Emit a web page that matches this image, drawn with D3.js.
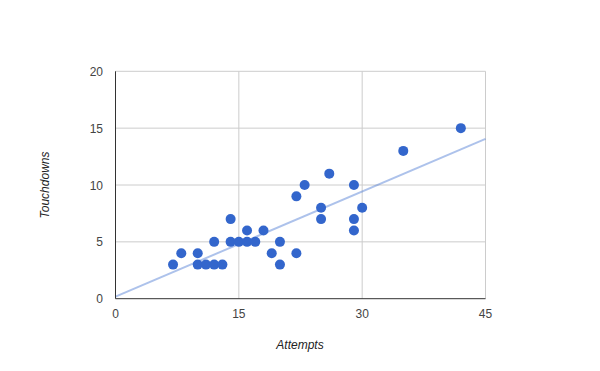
<!DOCTYPE html>
<html><head><meta charset="utf-8">
<script src="https://cdn.jsdelivr.net/npm/d3@7"></script>
<style>body{margin:0;background:#fff}svg{display:block;font-family:"Liberation Sans",Arial,sans-serif}</style>
</head><body><svg id="c" width="600" height="371"></svg>
<script>
const attempts   = [7,8,10,10,11,12,12,13,14,14,15,16,16,17,18,19,20,20,22,22,23,25,25,26,29,29,29,30,35,42];
const touchdowns = [3,4,4,3,3,3,5,3,7,5,5,5,6,5,6,4,5,3,9,4,10,8,7,11,10,7,6,8,13,15];
const xTicks = [0,15,30,45];
const yTicks = [0,5,10,15,20];
const xTitle = "Attempts", yTitle = "Touchdowns";

const svg = d3.select("#c");
const L=115.5,R=485.5,T=71.3,B=298.7;
const x = d3.scaleLinear().domain([0,45]).range([L,R]);
const y = d3.scaleLinear().domain([0,20]).range([B,T]);

// grid
svg.append("g").selectAll("line").data(xTicks.filter(d=>d>0)).join("line")
  .attr("x1",d=>x(d)).attr("x2",d=>x(d)).attr("y1",T).attr("y2",B)
  .attr("stroke","#cccccc").attr("stroke-width",1);
svg.append("g").selectAll("line").data(yTicks.filter(d=>d>0)).join("line")
  .attr("y1",d=>y(d)).attr("y2",d=>y(d)).attr("x1",L).attr("x2",R)
  .attr("stroke","#cccccc").attr("stroke-width",1);

// trendline (least squares)
const n=attempts.length, mx=d3.mean(attempts), my=d3.mean(touchdowns);
let sxy=0,sxx=0; for(let i=0;i<n;i++){sxy+=(attempts[i]-mx)*(touchdowns[i]-my);sxx+=(attempts[i]-mx)**2;}
const slope=sxy/sxx, icpt=my-slope*mx;
svg.append("line").attr("x1",x(0)).attr("y1",y(icpt)).attr("x2",x(45)).attr("y2",y(icpt+slope*45))
  .attr("stroke","#3366cc").attr("stroke-opacity",0.4).attr("stroke-width",2);

// axes baselines
svg.append("line").attr("x1",L).attr("x2",L).attr("y1",T).attr("y2",B).attr("stroke","#333").attr("stroke-width",1);
svg.append("line").attr("x1",L).attr("x2",R).attr("y1",B).attr("y2",B).attr("stroke","#333").attr("stroke-width",1);

// points
svg.append("g").selectAll("circle").data(attempts.map((a,i)=>[a,touchdowns[i]])).join("circle")
  .attr("cx",d=>x(d[0])).attr("cy",d=>y(d[1])).attr("r",5).attr("fill","#3366cc");

// tick labels
svg.append("g").selectAll("text").data(xTicks).join("text")
  .attr("x",d=>x(d)).attr("y",318).attr("text-anchor","middle")
  .attr("font-size",12).attr("fill","#444").text(d=>d);
svg.append("g").selectAll("text").data(yTicks).join("text")
  .attr("x",103).attr("y",d=>y(d)+4.5).attr("text-anchor","end")
  .attr("font-size",12).attr("fill","#444").text(d=>d);

// titles
svg.append("text").attr("x",300).attr("y",349).attr("text-anchor","middle")
  .attr("font-size",12).attr("font-style","italic").attr("fill","#222").text(xTitle);
svg.append("text").attr("transform","translate(49,185) rotate(-90)").attr("text-anchor","middle")
  .attr("font-size",12).attr("font-style","italic").attr("fill","#222").text(yTitle);
</script></body></html>
